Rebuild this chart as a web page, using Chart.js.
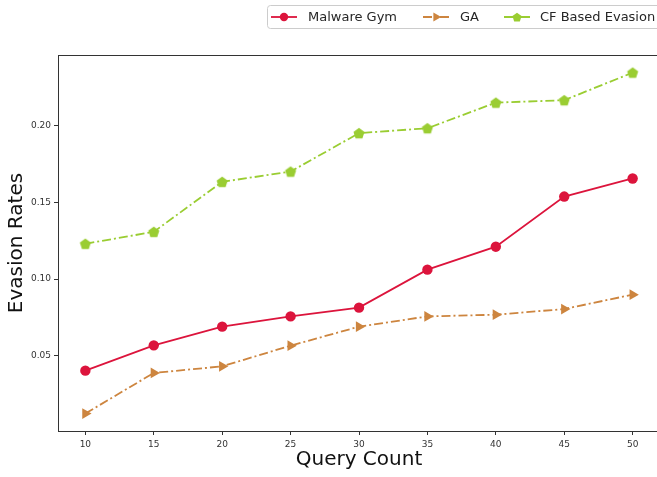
<!DOCTYPE html>
<html>
<head>
<meta charset="utf-8">
<script src="https://cdn.jsdelivr.net/npm/chart.js@4.4.1/dist/chart.umd.min.js"></script>
<style>
  html, body { margin: 0; padding: 0; background: #fff; overflow: hidden; width: 657px; height: 477px; }
  #clip { width: 657px; height: 477px; overflow: hidden; position: relative; }
  #wrap { width: 662px; height: 477px; position: absolute; left: 0; top: 0; }
  canvas { display: block; }
</style>
</head>
<body>
<div id="clip"><div id="wrap"><canvas id="c" width="662" height="477" style="width:662px;height:477px"></canvas></div></div>
<script>
// Query budgets on the x axis
const queryCounts = [10, 15, 20, 25, 30, 35, 40, 45, 50];

// Evasion rate per query budget for each attack
const malwareGym = [0.0402, 0.0567, 0.0689, 0.0756, 0.0813, 0.1061, 0.1211, 0.1538, 0.1656];
const gaRates    = [0.0122, 0.0387, 0.0430, 0.0565, 0.0689, 0.0756, 0.0767, 0.0804, 0.0898];
const cfRates    = [0.1230, 0.1308, 0.1634, 0.1701, 0.1952, 0.1984, 0.2151, 0.2167, 0.2347];

const seriesLabels = ['Malware Gym', 'GA', 'CF Based Evasion'];

// Axis ticks
const xTicks = [10, 15, 20, 25, 30, 35, 40, 45, 50];
const yTicks = [0.05, 0.10, 0.15, 0.20];

const FONT = "'DejaVu Sans', sans-serif";
const INK = '#333333';

// pentagon marker drawn once into a small canvas
function pentagonMarker(color, r) {
  const size = Math.ceil(r * 2 + 2);
  const cv = document.createElement('canvas');
  cv.width = size; cv.height = size;
  const g = cv.getContext('2d');
  const cx = size / 2, cy = size / 2 + 0.5;
  g.beginPath();
  for (let i = 0; i < 5; i++) {
    const a = -Math.PI / 2 + i * 2 * Math.PI / 5;
    const px = cx + r * Math.cos(a), py = cy + r * Math.sin(a);
    if (i === 0) g.moveTo(px, py); else g.lineTo(px, py);
  }
  g.closePath();
  g.fillStyle = color;
  g.fill();
  return cv;
}

const C_RED = '#dc143c';
const C_ORANGE = '#cd853f';
const C_GREEN = '#9acd32';
const DASHDOT = [9, 3, 2, 3];
const pent = pentagonMarker(C_GREEN, 5.8);
const pentSmall = pentagonMarker(C_GREEN, 4.8);

function toXY(values) {
  return queryCounts.map((q, i) => ({ x: q, y: values[i] }));
}

// frame around the plotting area (all four spines); the right one sits past the visible edge
const framePlugin = {
  id: 'frame',
  afterDatasetsDraw(chart) {
    const { ctx, chartArea: a } = chart;
    ctx.save();
    ctx.strokeStyle = INK;
    ctx.lineWidth = 1;
    ctx.strokeRect(Math.round(a.left) + 0.5, Math.round(a.top) + 0.5,
                   Math.round(a.right - a.left), Math.round(a.bottom - a.top));
    ctx.restore();
  }
};

// legend with line + marker handles, laid out in one row
const lineLegend = {
  id: 'lineLegend',
  afterDraw(chart) {
    const { ctx } = chart;
    const boxX = 267, boxY = 5, boxH = 23, boxW = 400;
    ctx.save();
    ctx.beginPath();
    ctx.roundRect(boxX + 0.5, boxY + 0.5, boxW, boxH, 3);
    ctx.fillStyle = 'rgba(255,255,255,0.8)';
    ctx.fill();
    ctx.strokeStyle = '#cccccc';
    ctx.lineWidth = 1;
    ctx.stroke();

    const handleStarts = [271, 423, 504];
    const textStarts = [308, 460, 540];
    const cy = boxY + boxH / 2 + 0.5;
    ctx.font = '13px ' + FONT;
    ctx.textBaseline = 'middle';
    chart.data.datasets.forEach((ds, i) => {
      const x0 = handleStarts[i], x1 = x0 + 26;
      ctx.beginPath();
      ctx.setLineDash(ds.borderDash || []);
      ctx.strokeStyle = ds.borderColor;
      ctx.lineWidth = ds.borderWidth;
      ctx.moveTo(x0, cy);
      ctx.lineTo(x1, cy);
      ctx.stroke();
      ctx.setLineDash([]);
      ctx.fillStyle = ds.pointBackgroundColor;
      ctx.strokeStyle = ds.pointBorderColor;
      Chart.helpers.drawPoint(ctx, {
        pointStyle: ds.pointStyle === pent ? pentSmall : ds.pointStyle,
        radius: ds.pointRadius - 1,
        rotation: ds.pointRotation || 0,
        borderWidth: 0
      }, (x0 + x1) / 2, cy);
      ctx.fillStyle = '#262626';
      ctx.fillText(ds.label, textStarts[i], cy + 0.5);
    });
    ctx.restore();
  }
};

new Chart(document.getElementById('c'), {
  type: 'line',
  data: {
    datasets: [
      {
        label: seriesLabels[0],
        data: toXY(malwareGym),
        borderColor: C_RED,
        backgroundColor: C_RED,
        borderWidth: 1.8,
        pointStyle: 'circle',
        pointRadius: 5.2,
        pointBackgroundColor: C_RED,
        pointBorderColor: C_RED,
        pointBorderWidth: 0
      },
      {
        label: seriesLabels[1],
        data: toXY(gaRates),
        borderColor: C_ORANGE,
        backgroundColor: C_ORANGE,
        borderWidth: 1.8,
        borderDash: DASHDOT,
        pointStyle: 'triangle',
        pointRotation: 90,
        pointRadius: 6.2,
        pointBackgroundColor: C_ORANGE,
        pointBorderColor: C_ORANGE,
        pointBorderWidth: 0
      },
      {
        label: seriesLabels[2],
        data: toXY(cfRates),
        borderColor: C_GREEN,
        backgroundColor: C_GREEN,
        borderWidth: 1.8,
        borderDash: DASHDOT,
        pointStyle: pent,
        pointRadius: 5.8,
        pointBackgroundColor: C_GREEN,
        pointBorderColor: C_GREEN,
        pointBorderWidth: 0
      }
    ]
  },
  options: {
    responsive: false,
    animation: false,
    devicePixelRatio: 1,
    layout: { autoPadding: false, padding: { top: 55, right: 2, left: 0, bottom: 0 } },
    plugins: {
      legend: { display: false },
      tooltip: { enabled: false }
    },
    elements: { line: { tension: 0 } },
    scales: {
      x: {
        type: 'linear',
        min: 8,
        max: 52,
        afterBuildTicks(scale) { scale.ticks = xTicks.map(v => ({ value: v })); },
        afterFit(scale) {
          scale.height = 46;
          scale.paddingLeft = 0;
          scale.paddingRight = 0;
        },
        grid: { display: true, drawOnChartArea: false, drawTicks: true, tickLength: 4, color: INK },
        border: { display: false },
        ticks: {
          font: { family: FONT, size: 9 },
          color: INK,
          padding: 4,
          maxRotation: 0,
          callback: v => String(v)
        },
        title: {
          display: true,
          text: 'Query Count',
          font: { family: FONT, size: 20 },
          color: '#111',
          padding: { top: 0, bottom: 5 }
        }
      },
      y: {
        type: 'linear',
        min: 0.0008,
        max: 0.2462,
        afterBuildTicks(scale) { scale.ticks = yTicks.map(v => ({ value: v })); },
        afterFit(scale) {
          scale.width = 58;
          scale.paddingTop = 0;
          scale.paddingBottom = 0;
        },
        grid: { display: true, drawOnChartArea: false, drawTicks: true, tickLength: 4, color: INK },
        border: { display: false },
        ticks: {
          font: { family: FONT, size: 9 },
          color: INK,
          padding: 3,
          callback: v => v.toFixed(2)
        },
        title: {
          display: true,
          text: 'Evasion Rates',
          font: { family: FONT, size: 20 },
          color: '#111',
          padding: { top: 5, bottom: 0 }
        }
      }
    }
  },
  plugins: [framePlugin, lineLegend]
});
</script>
</body>
</html>
